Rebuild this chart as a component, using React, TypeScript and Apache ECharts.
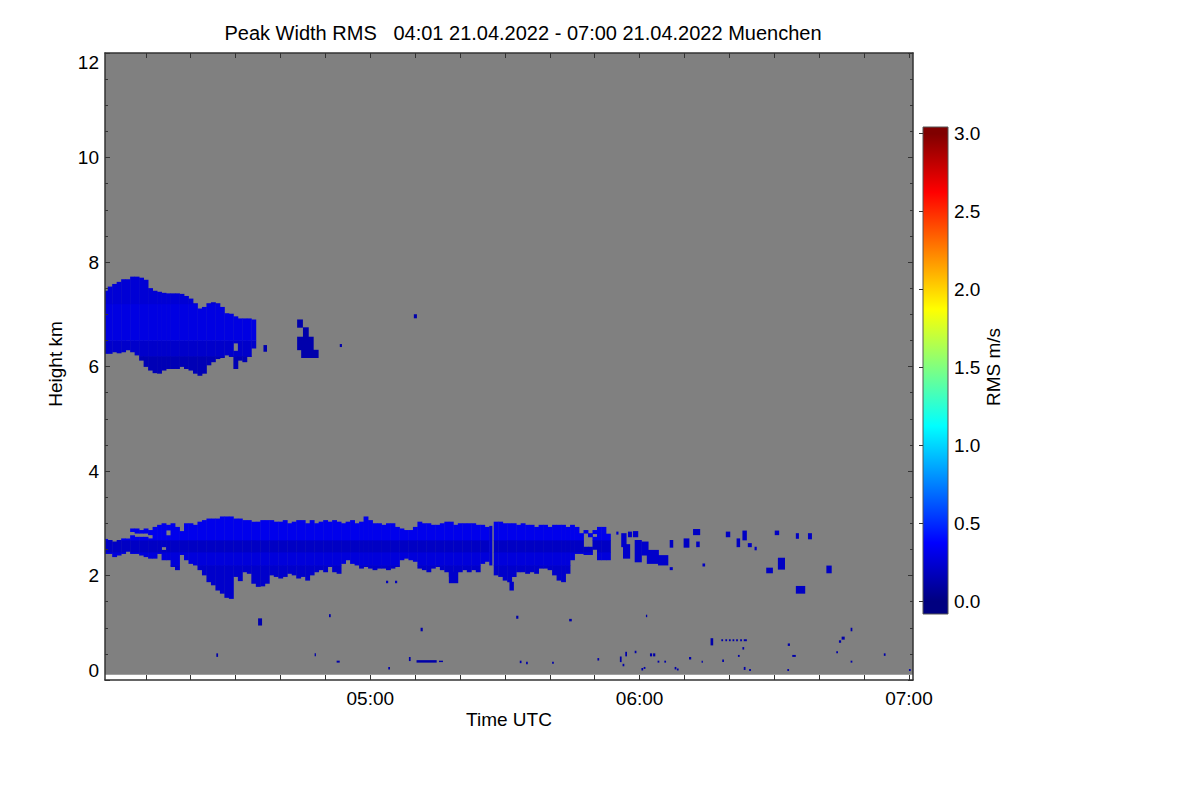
import React, { useEffect, useRef } from "react";
import * as echarts from "echarts";

// ---------- texts ----------
const TITLE = "Peak Width RMS   04:01 21.04.2022 - 07:00 21.04.2022 Muenchen";
const X_NAME = "Time UTC";
const Y_NAME = "Height km";
const CB_NAME = "RMS m/s";

// ---------- axes (time in minutes after 00:00 UTC) ----------
const timeMin = 240.9;
const timeMax = 420.9;
const timeTickValues = [250, 260, 270, 280, 290, 300, 310, 320, 330, 340, 350, 360, 370, 380, 390, 400, 410, 420];
const timeLabelValues = [300, 360, 420];
const heightMin = 0;
const heightMax = 12;
const firstGateKm = 0.11;
const rmsMin = -0.081;
const rmsMax = 3.043;
const rmsTicks = [0, 0.5, 1, 1.5, 2, 2.5, 3];
const jetColors = ["#000080", "#0000ff", "#0080ff", "#00ffff", "#80ff80", "#ffff00", "#ff8000", "#ff0000", "#800000"];

// ---------- data (minute after 04:00, base km, top km) ----------
const upperCloud: [number, number, number][] = [
  [1, 6.25, 7.45], [2, 6.25, 7.53], [3, 6.28, 7.58], [4, 6.26, 7.62], [5, 6.28, 7.67], [6, 6.32, 7.67],
  [7, 6.28, 7.72], [8, 6.22, 7.72], [9, 6.12, 7.7], [10, 6.0, 7.66], [11, 5.93, 7.5], [12, 5.88, 7.45],
  [13, 5.87, 7.43], [14, 5.93, 7.41], [15, 5.96, 7.4], [16, 5.96, 7.4], [17, 5.96, 7.4], [18, 6.0, 7.39],
  [19, 5.96, 7.35], [20, 5.93, 7.3], [21, 5.87, 7.21], [22, 5.83, 7.11], [23, 5.87, 7.14], [24, 6.03, 7.21],
  [25, 6.09, 7.23], [26, 6.15, 7.21], [27, 6.17, 7.14], [28, 6.22, 7.02], [29, 6.19, 7.01], [30, 5.96, 6.3],
  [30, 6.45, 6.96], [31, 6.12, 6.92], [32, 6.09, 6.92], [33, 6.19, 6.92], [34, 6.35, 6.9],
];
// RMS by height band inside the upper cloud: [from km, to km, rms]
const upperBands: [number, number, number][] = [
  [5.5, 6.2, 0.16], [6.2, 6.5, 0.22], [6.5, 7.2, 0.29], [7.2, 8.0, 0.25],
];

const lowerCloud: [number, number, number][] = [
  [1, 2.42, 2.7], [2, 2.42, 2.68], [3, 2.36, 2.65], [4, 2.39, 2.68], [5, 2.42, 2.71], [6, 2.46, 2.71],
  [7, 2.42, 2.77], [7, 2.84, 2.9], [8, 2.42, 2.74], [8, 2.81, 2.9], [9, 2.39, 2.74], [9, 2.81, 2.87],
  [10, 2.36, 2.74], [10, 2.81, 2.9], [11, 2.33, 2.71], [11, 2.78, 2.87], [12, 2.33, 2.93], [13, 2.42, 2.97],
  [14, 2.3, 2.49], [14, 2.55, 3.0], [15, 2.3, 2.77], [15, 2.87, 2.97], [16, 2.17, 3.0], [17, 2.11, 2.93],
  [18, 2.4, 2.85], [19, 2.3, 3.0], [20, 2.23, 3.0], [21, 2.2, 2.97], [22, 2.11, 3.03], [23, 2.01, 3.06],
  [24, 1.88, 3.09], [25, 1.82, 3.09], [26, 1.72, 3.09], [27, 1.66, 3.13], [28, 1.58, 3.13], [29, 1.56, 3.13],
  [30, 1.98, 3.09], [31, 1.9, 3.09], [32, 2.07, 3.06], [33, 2.04, 3.06], [34, 1.85, 3.03], [35, 1.79, 3.03],
  [36, 1.8, 3.06], [37, 1.85, 3.06], [38, 2.01, 3.06], [39, 1.98, 3.03], [40, 1.95, 3.03], [41, 1.98, 3.06],
  [42, 2.04, 3.0], [43, 2.01, 3.03], [44, 1.95, 3.06], [45, 1.98, 3.06], [46, 1.91, 3.0], [47, 2.01, 3.06],
  [48, 2.07, 3.0], [49, 2.11, 3.03], [50, 2.07, 3.06], [51, 2.17, 3.03], [52, 2.07, 3.06], [53, 2.04, 3.03],
  [54, 2.23, 3.0], [55, 2.3, 3.03], [56, 2.23, 3.06], [57, 2.2, 3.0], [58, 2.14, 3.03], [59, 2.17, 3.13],
  [60, 2.14, 3.06], [61, 2.11, 3.0], [62, 2.14, 3.0], [63, 2.14, 2.97], [64, 2.11, 3.0], [65, 2.14, 3.0],
  [66, 2.17, 2.93], [67, 2.3, 2.9], [68, 2.33, 2.87], [69, 2.3, 2.87], [70, 2.27, 2.93], [71, 2.14, 3.03],
  [72, 2.11, 3.0], [73, 2.07, 3.0], [74, 2.14, 2.97], [75, 2.17, 2.97], [76, 2.11, 3.0], [77, 2.07, 3.03],
  [78, 1.98, 3.03], [79, 2.07, 2.97], [80, 2.07, 3.0], [81, 2.11, 3.0], [82, 2.07, 3.0], [83, 2.11, 3.0],
  [84, 2.07, 2.97], [85, 2.23, 2.97], [86, 2.27, 2.93], [88, 2.01, 3.03], [89, 1.98, 3.03], [90, 1.91, 3.0],
  [91, 1.88, 3.0], [92, 1.98, 3.0], [93, 2.07, 2.97], [94, 2.07, 3.0], [95, 2.04, 2.97], [96, 2.07, 2.97],
  [97, 2.04, 2.93], [98, 2.14, 2.97], [99, 2.14, 2.97], [100, 2.11, 2.93], [101, 2.01, 2.97], [102, 1.91, 2.97],
  [103, 1.88, 2.97], [104, 2.04, 2.93], [105, 2.3, 2.97], [106, 2.42, 2.93], [107, 2.42, 2.81],
  [108, 2.4, 2.55], [108, 2.81, 2.87], [109, 2.4, 2.55], [109, 2.74, 2.81], [110, 2.5, 2.74], [110, 2.8, 2.87],
  [111, 2.3, 2.93], [112, 2.3, 2.93], [113, 2.3, 2.8],
];
const lowerBands: [number, number, number][] = [
  [1.4, 2.2, 0.22], [2.2, 2.45, 0.27], [2.45, 2.68, 0.2], [2.68, 3.3, 0.32],
];

// isolated echoes: [start minute after 04:00, end minute, base km, top km, rms]
const patches: [number, number, number, number, number][] = [
  // near the upper cloud
  [36.2, 36.9, 6.29, 6.41, 0.14], [43.7, 44.9, 6.75, 6.9, 0.13], [45.0, 46.2, 6.57, 6.75, 0.13],
  [43.7, 47.3, 6.32, 6.57, 0.13], [44.6, 48.4, 6.17, 6.32, 0.13], [53.2, 53.6, 6.38, 6.43, 0.13],
  [69.7, 70.3, 6.93, 7.0, 0.13],
  // around the lower cloud
  [86.5, 87.1, 2.2, 2.95, 0.26], [77.5, 79.5, 1.86, 2.07, 0.22], [91.0, 91.9, 1.72, 1.88, 0.22],
  [63.5, 63.9, 1.86, 1.9, 0.18], [65.5, 65.9, 1.86, 1.9, 0.18], [114.8, 115.2, 2.79, 2.84, 0.22],
  [115.9, 117.0, 2.55, 2.81, 0.22],
  [116.3, 117.8, 2.33, 2.6, 0.22], [117.4, 118.2, 2.74, 2.84, 0.22], [118.5, 119.6, 2.74, 2.85, 0.22],
  [118.9, 120.4, 2.26, 2.68, 0.22], [120.4, 121.9, 2.39, 2.65, 0.22], [121.6, 124.2, 2.23, 2.49, 0.22],
  [124.1, 126.3, 2.2, 2.39, 0.22], [126.7, 127.3, 2.11, 2.16, 0.2], [126.7, 127.4, 2.54, 2.68, 0.2],
  [129.8, 131.0, 2.54, 2.71, 0.2], [131.9, 133.4, 2.78, 2.89, 0.2], [132.6, 133.3, 2.55, 2.65, 0.2],
  [134.0, 134.5, 2.18, 2.23, 0.2], [139.2, 140.1, 2.74, 2.84, 0.2], [141.6, 142.3, 2.55, 2.71, 0.2],
  [142.9, 143.8, 2.68, 2.86, 0.2], [144.1, 144.9, 2.55, 2.62, 0.2], [145.6, 146.0, 2.49, 2.55, 0.2],
  [148.2, 149.6, 2.05, 2.15, 0.2], [150.1, 151.0, 2.78, 2.86, 0.2], [150.8, 152.3, 2.12, 2.34, 0.2],
  [154.8, 155.4, 2.71, 2.81, 0.2], [157.5, 158.3, 2.7, 2.81, 0.2], [161.6, 162.7, 2.05, 2.19, 0.2],
  [154.8, 156.8, 1.66, 1.8, 0.2],
  // low level specks
  [35.0, 35.8, 1.05, 1.18, 0.14], [50.8, 51.1, 1.21, 1.26, 0.12], [25.7, 26.0, 0.45, 0.51, 0.12],
  [47.6, 47.8, 0.46, 0.51, 0.12], [52.5, 53.1, 0.34, 0.37, 0.12], [71.2, 71.6, 0.94, 1.0, 0.12],
  [64.0, 64.3, 0.21, 0.25, 0.12], [68.6, 68.9, 0.37, 0.44, 0.12], [70.3, 74.7, 0.34, 0.38, 0.12],
  [75.3, 76.1, 0.35, 0.37, 0.12], [92.5, 92.9, 1.18, 1.23, 0.12], [104.3, 104.8, 1.13, 1.17, 0.12],
  [121.4, 121.6, 1.21, 1.25, 0.12], [93.3, 93.6, 0.33, 0.37, 0.12], [94.7, 95.0, 0.31, 0.35, 0.12],
  [100.5, 100.8, 0.32, 0.35, 0.12], [110.6, 110.9, 0.38, 0.42, 0.12], [115.6, 115.9, 0.35, 0.45, 0.12],
  [116.2, 116.5, 0.27, 0.31, 0.12], [116.8, 117.1, 0.46, 0.54, 0.12], [118.9, 119.2, 0.52, 0.56, 0.12],
  [122.3, 122.7, 0.46, 0.51, 0.12], [123.0, 123.4, 0.46, 0.51, 0.12], [120.4, 120.7, 0.19, 0.23, 0.12],
  [120.9, 121.2, 0.22, 0.25, 0.12], [124.0, 124.3, 0.34, 0.37, 0.12], [125.5, 125.8, 0.34, 0.37, 0.12],
  [127.8, 128.1, 0.21, 0.25, 0.12], [128.3, 128.6, 0.19, 0.22, 0.12], [131.0, 131.4, 0.4, 0.44, 0.12],
  [133.8, 134.0, 0.34, 0.37, 0.12], [135.8, 136.3, 0.67, 0.8, 0.12], [138.2, 138.5, 0.75, 0.78, 0.12],
  [139.1, 139.4, 0.75, 0.78, 0.12], [139.9, 140.2, 0.75, 0.78, 0.12], [140.7, 141.0, 0.75, 0.78, 0.12],
  [141.5, 141.8, 0.75, 0.78, 0.12], [142.4, 142.7, 0.75, 0.78, 0.12], [143.2, 143.8, 0.75, 0.78, 0.12],
  [138.4, 138.7, 0.35, 0.39, 0.12], [141.9, 142.2, 0.45, 0.48, 0.12], [142.9, 143.2, 0.59, 0.63, 0.12],
  [143.2, 143.5, 0.2, 0.25, 0.12], [144.4, 144.7, 0.18, 0.21, 0.12], [153.0, 153.4, 0.66, 0.7, 0.12],
  [154.0, 154.7, 0.45, 0.48, 0.12], [152.9, 153.2, 0.18, 0.21, 0.12], [163.8, 164.1, 0.52, 0.55, 0.12],
  [164.4, 164.8, 0.72, 0.76, 0.12], [165.0, 165.6, 0.78, 0.83, 0.12], [167.0, 167.3, 0.94, 1.0, 0.12],
  [167.0, 167.3, 0.34, 0.37, 0.12], [174.4, 174.7, 0.47, 0.51, 0.12], [180.0, 180.3, 0.18, 0.21, 0.12],
];

const MINUTE_OFFSET = 240; // 04:00 UTC in minutes

function columnsToCells(cols: [number, number, number][], bands: [number, number, number][]) {
  const out: number[][] = [];
  for (const [m, b, t] of cols) {
    for (const [lo, hi, v] of bands) {
      const y0 = Math.max(b, lo);
      const y1 = Math.min(t, hi);
      if (y1 > y0) out.push([MINUTE_OFFSET + m - 0.5, MINUTE_OFFSET + m + 0.5, y0, y1, v]);
    }
  }
  return out;
}

const fmtTime = (v: number) => {
  const h = Math.floor(v / 60);
  const m = Math.round(v - h * 60);
  return `${String(h).padStart(2, "0")}:${String(m).padStart(2, "0")}`;
};

const FONT = "'Liberation Sans', Arial, Helvetica, sans-serif";
const AXIS_COLOR = "#333";

export default function App() {
  const ref = useRef<HTMLDivElement>(null);
  useEffect(() => {
    if (!ref.current) return;
    const chart = echarts.init(ref.current, undefined, { renderer: "svg" });

    const cells = [
      ...columnsToCells(upperCloud, upperBands),
      ...columnsToCells(lowerCloud, lowerBands),
      ...patches.map(([s, e, b, t, v]) => [MINUTE_OFFSET + s, MINUTE_OFFSET + e, b, t, v]),
    ];

    const rectItem = (fill: (api: any) => string) => (params: any, api: any) => {
      const a = api.coord([api.value(0), api.value(3)]);
      const b = api.coord([api.value(1), api.value(2)]);
      return {
        type: "rect",
        shape: { x: a[0], y: a[1], width: b[0] - a[0] + 0.4, height: b[1] - a[1] + 0.4 },
        style: { fill: fill(api) },
      };
    };

    const commonTick = { inside: true, length: 5, lineStyle: { color: AXIS_COLOR, width: 1 } };
    const commonLine = { show: true, onZero: false, lineStyle: { color: AXIS_COLOR, width: 1.5 } };
    const labelStyle = { color: "#000", fontSize: 19, fontFamily: FONT };

    const span = rmsMax - rmsMin;
    const cbStops = [
      { offset: 0, color: "#800000" },
      { offset: (rmsMax - 3) / span, color: "#800000" },
      { offset: (rmsMax - 2.625) / span, color: "#ff0000" },
      { offset: (rmsMax - 2.25) / span, color: "#ff8000" },
      { offset: (rmsMax - 1.875) / span, color: "#ffff00" },
      { offset: (rmsMax - 1.5) / span, color: "#80ff80" },
      { offset: (rmsMax - 1.125) / span, color: "#00ffff" },
      { offset: (rmsMax - 0.75) / span, color: "#0080ff" },
      { offset: (rmsMax - 0.375) / span, color: "#0000ff" },
      { offset: (rmsMax - 0) / span, color: "#000080" },
      { offset: 1, color: "#000080" },
    ];

    chart.setOption({
      animation: false,
      backgroundColor: "#ffffff",
      textStyle: { fontFamily: FONT },
      grid: [
        { left: 105, top: 53, width: 808, height: 627, containLabel: false },
        { left: 923, top: 127, width: 25, height: 487, containLabel: false },
      ],
      xAxis: [
        {
          gridIndex: 0, type: "value", position: "bottom", min: timeMin, max: timeMax, z: 10,
          axisLine: commonLine,
          axisTick: { ...commonTick, customValues: timeTickValues },
          axisLabel: { ...labelStyle, margin: 9, customValues: timeLabelValues, formatter: (v: number) => fmtTime(v) },
          splitLine: { show: false },
        },
        {
          gridIndex: 0, type: "value", position: "top", min: timeMin, max: timeMax, z: 10,
          axisLine: commonLine,
          axisTick: { ...commonTick, customValues: timeTickValues },
          axisLabel: { show: false },
          splitLine: { show: false },
        },
        { gridIndex: 1, type: "value", min: 0, max: 1, show: false },
      ],
      yAxis: [
        {
          gridIndex: 0, type: "value", position: "left", min: heightMin, max: heightMax, interval: 2, z: 10,
          axisLine: commonLine,
          axisTick: commonTick,
          minorTick: { show: true, splitNumber: 4, length: 3, lineStyle: { color: AXIS_COLOR, width: 1 } },
          axisLabel: { ...labelStyle, margin: 6, verticalAlignMinLabel: "bottom", verticalAlignMaxLabel: "top" },
          splitLine: { show: false },
          minorSplitLine: { show: false },
        },
        {
          gridIndex: 0, type: "value", position: "right", min: heightMin, max: heightMax, interval: 2, z: 10,
          axisLine: commonLine,
          axisTick: commonTick,
          minorTick: { show: true, splitNumber: 4, length: 3, lineStyle: { color: AXIS_COLOR, width: 1 } },
          axisLabel: { show: false },
          splitLine: { show: false },
          minorSplitLine: { show: false },
        },
        {
          gridIndex: 1, type: "value", position: "right", min: rmsMin, max: rmsMax, z: 10,
          axisLine: { show: false },
          axisTick: { inside: true, length: 4, customValues: rmsTicks, lineStyle: { color: AXIS_COLOR, width: 1 } },
          axisLabel: { ...labelStyle, margin: 6, customValues: rmsTicks, formatter: (v: number) => v.toFixed(1) },
          splitLine: { show: false },
        },
      ],
      visualMap: {
        type: "continuous", show: false, min: 0, max: 3, dimension: 4, seriesIndex: 1,
        inRange: { color: jetColors },
      },
      series: [
        {
          type: "custom", name: "no data", xAxisIndex: 0, yAxisIndex: 0, clip: true, z: 1, silent: true,
          encode: { x: [0, 1], y: [2, 3] },
          data: [[timeMin, timeMax, firstGateKm, heightMax]],
          renderItem: rectItem(() => "#808080"),
        },
        {
          type: "custom", name: "RMS", xAxisIndex: 0, yAxisIndex: 0, clip: true, z: 2, silent: true,
          encode: { x: [0, 1], y: [2, 3] },
          data: cells,
          renderItem: rectItem((api) => api.visual("color")),
        },
      ],
      graphic: [
        {
          type: "rect", z: 1, silent: true,
          shape: { x: 923, y: 127, width: 25, height: 487 },
          style: { fill: new echarts.graphic.LinearGradient(0, 0, 0, 1, cbStops), stroke: "#555", lineWidth: 1 },
        },
        {
          type: "text", x: 523, y: 33, silent: true,
          style: { text: TITLE, fontSize: 20, fontFamily: FONT, fill: "#000", textAlign: "center", textVerticalAlign: "middle" },
        },
        {
          type: "text", x: 509, y: 719, silent: true,
          style: { text: X_NAME, fontSize: 19, fontFamily: FONT, fill: "#000", textAlign: "center", textVerticalAlign: "middle" },
        },
        {
          type: "text", x: 55, y: 364, rotation: Math.PI / 2, silent: true,
          style: { text: Y_NAME, fontSize: 19, fontFamily: FONT, fill: "#000", textAlign: "center", textVerticalAlign: "middle" },
        },
        {
          type: "text", x: 993, y: 367, rotation: Math.PI / 2, silent: true,
          style: { text: CB_NAME, fontSize: 19, fontFamily: FONT, fill: "#000", textAlign: "center", textVerticalAlign: "middle" },
        },
      ],
    });
    return () => chart.dispose();
  }, []);
  return <div ref={ref} style={{ position: "fixed", left: 0, top: 0, width: 1200, height: 800 }} />;
}
